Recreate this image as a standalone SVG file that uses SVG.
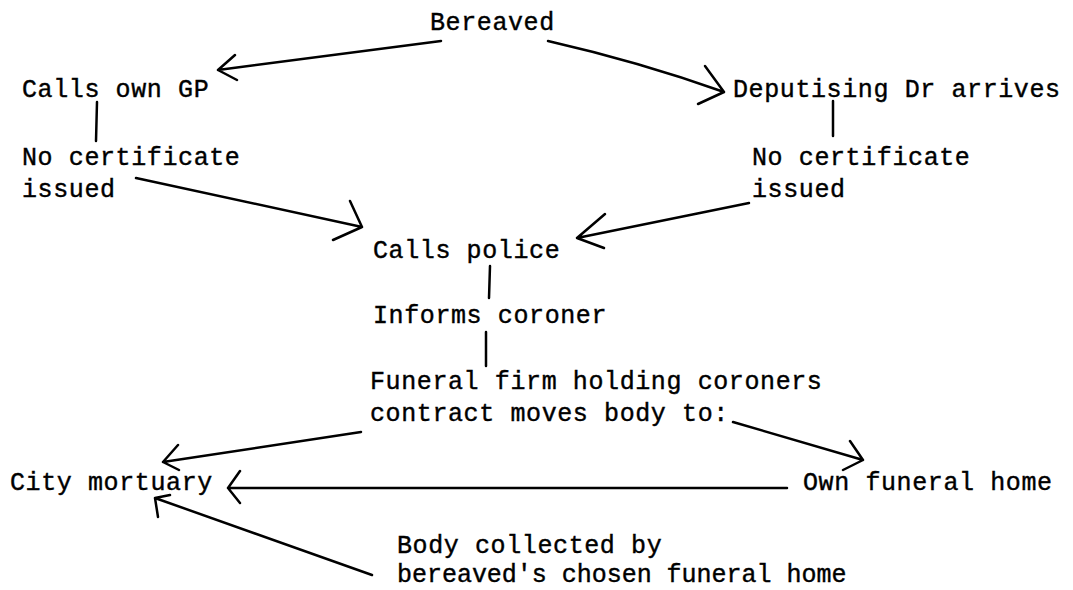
<svg xmlns="http://www.w3.org/2000/svg" width="1073" height="590" viewBox="0 0 1073 590">
<style>
text{font-family:"Liberation Mono","DejaVu Sans Mono",monospace;font-size:25px;letter-spacing:0.6px;fill:#000;stroke:#000;stroke-width:0.4}
.c{fill:none;stroke:#000;stroke-width:2.5;stroke-linecap:round;stroke-linejoin:round}
</style>
<rect width="1073" height="590" fill="#fff"/>
<g id="bereaved"><text x="430" y="30">Bereaved</text></g>
<g id="calls-gp"><text x="22" y="97">Calls own GP</text></g>
<g id="deputising"><text x="733" y="97">Deputising Dr arrives</text></g>
<g id="no-cert-left"><text x="22" y="165">No certificate</text><text x="22" y="197">issued</text></g>
<g id="no-cert-right"><text x="752" y="165">No certificate</text><text x="752" y="197">issued</text></g>
<g id="calls-police"><text x="373" y="258">Calls police</text></g>
<g id="informs-coroner"><text x="373" y="323">Informs coroner</text></g>
<g id="funeral-firm"><text x="370" y="389">Funeral firm holding coroners</text><text x="370" y="421">contract moves body to:</text></g>
<g id="city-mortuary"><text x="10" y="490">City mortuary</text></g>
<g id="own-funeral-home"><text x="803" y="490">Own funeral home</text></g>
<g id="body-collected"><text x="397" y="553">Body collected by</text><text x="397" y="582" textLength="450" lengthAdjust="spacing">bereaved's chosen funeral home</text></g>
<g id="connectors">
<path class="c" d="M441 41 L218 70 M235 55 L218 70 L237 80"/>
<path class="c" d="M548 41 Q640 62 724 92 M705 66 L724 92 L698 104"/>
<path class="c" d="M97 102 L96 141"/>
<path class="c" d="M833 101 L833 136"/>
<path class="c" d="M136 178 L362 227 M350 201 L362 227 L333 240"/>
<path class="c" d="M749 203 L577 238 M605 214 L577 238 L604 248"/>
<path class="c" d="M490 266 L489 298"/>
<path class="c" d="M486 332 L486 366"/>
<path class="c" d="M361 432 L163 462 M178 445 L163 462 L179 470"/>
<path class="c" d="M733 422 L863 460 M850 441 L863 460 L843 470"/>
<path class="c" d="M787 488 L228 488 M240 471 L228 488 L240 503"/>
<path class="c" d="M372 575 L155 498 M158 517 L155 498 L170 495"/>
</g>
</svg>
